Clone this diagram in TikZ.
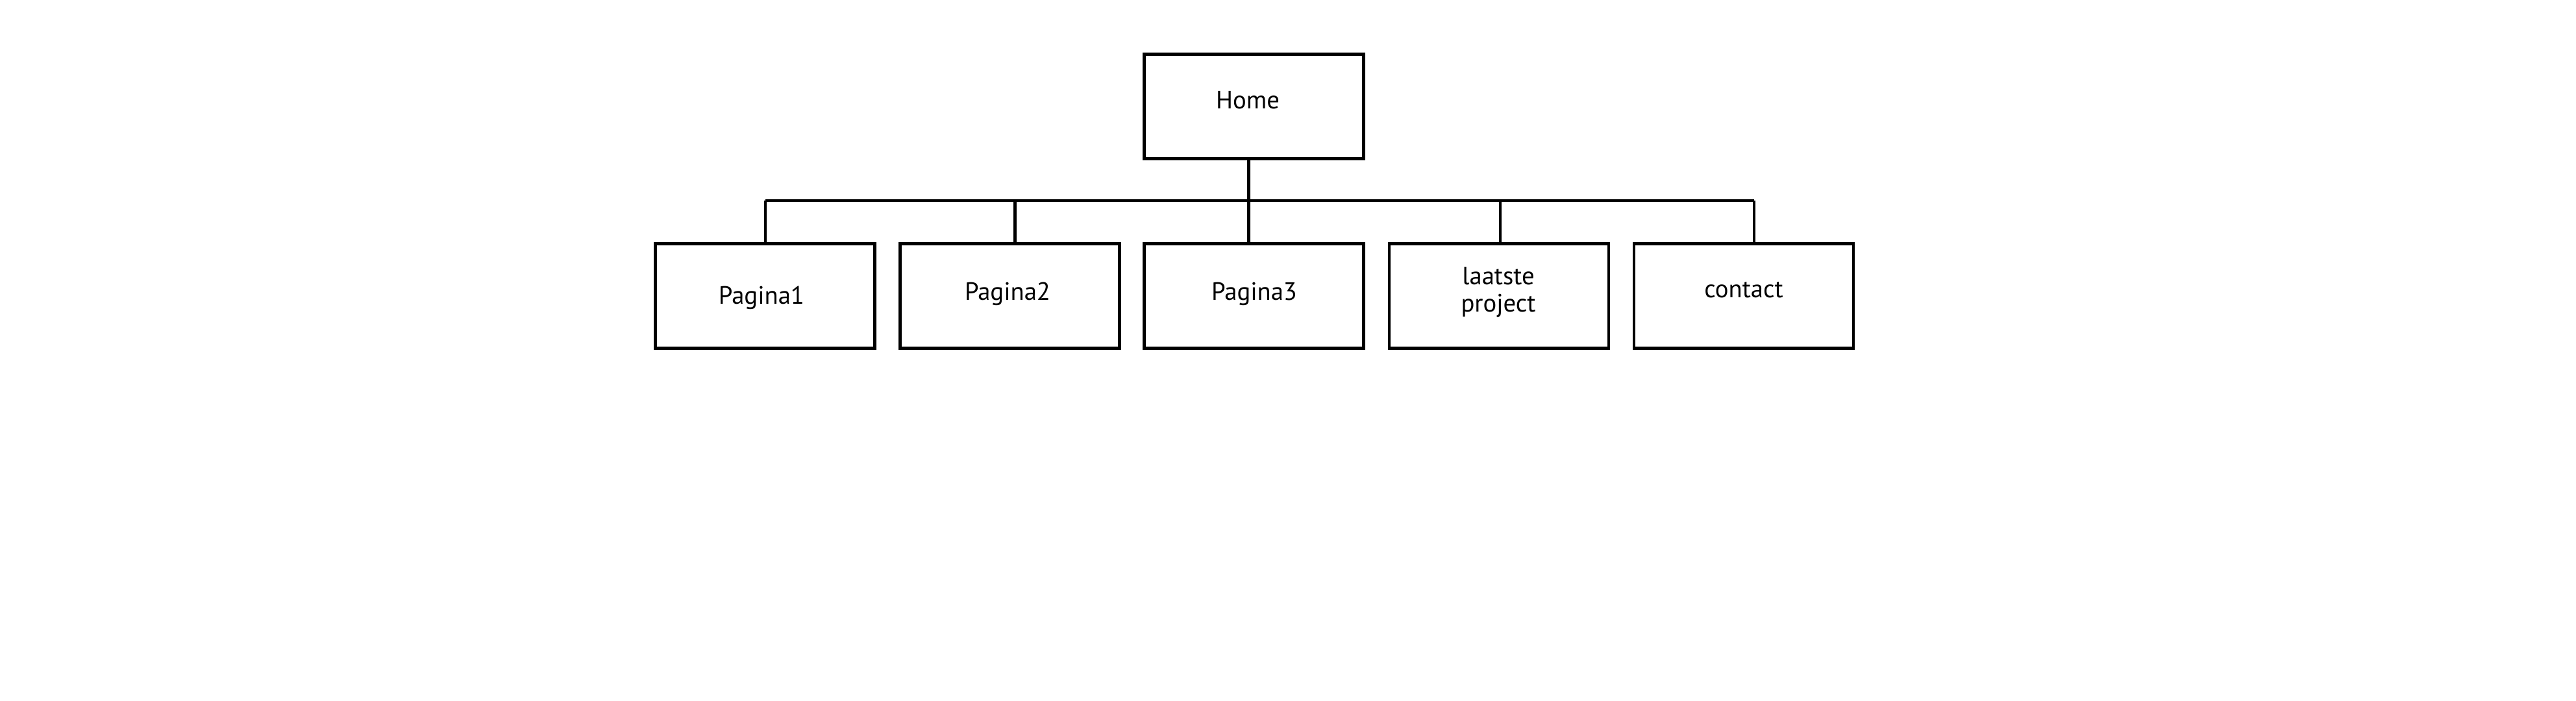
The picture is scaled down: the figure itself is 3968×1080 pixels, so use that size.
\documentclass[tikz,border=0pt]{standalone}
\usepackage{fontspec}
\setmainfont{PT Sans}
\usetikzlibrary{calc}
\begin{document}
\begin{tikzpicture}[x=0.01cm,y=-0.01cm,
  pagebox/.style={draw=black,line width=1.3pt,minimum width=3.38cm,minimum height=1.61cm,inner sep=0pt},
  txt/.style={inner sep=0pt,align=center,font=\fontsize{11}{11.7}\selectfont},
  conn/.style={draw=black,line width=1.3pt}]
\useasboundingbox[fill=white] (0,0) rectangle (3968,1080);
\node[pagebox] (home) at (1931.5,164) {};
\node[pagebox] (p1) at (1178.5,456) {};
\node[pagebox] (p2) at (1555.5,456) {};
\node[pagebox] (p3) at (1931.5,456) {};
\node[pagebox] (p4) at (2309,456) {};
\node[pagebox] (p5) at (2686,456) {};
\node[txt,anchor=base] (thome) at (1922,168) {Home};
\node[txt,anchor=base] (tp1) at (1173,469) {Pagina1};
\node[txt,anchor=base] (tp2) at (1552,463) {Pagina2};
\node[txt,anchor=base] (tp3) at (1932,463) {Pagina3};
\node[txt] (tp4) at (2308,450) {laatste\\project};
\node[txt,anchor=base] (tp5) at (2686,459) {contact};
\coordinate (busL) at (1179,309);
\coordinate (busR) at (2702,309);
\draw[conn] (busL) -- (busR);
\draw[conn] ([xshift=-0.08cm]home.south) -- ([xshift=-0.08cm]home.south |- busL);
\draw[conn] (busL) -- (busL |- p1.north);
\draw[conn] ([xshift=0.08cm]p2.north) -- ([xshift=0.08cm]p2.north |- busL);
\draw[conn] ([xshift=-0.08cm]p3.north) -- ([xshift=-0.08cm]p3.north |- busL);
\draw[conn] ([xshift=0.02cm]p4.north) -- ([xshift=0.02cm]p4.north |- busL);
\draw[conn] (busR) -- (busR |- p5.north);
\end{tikzpicture}
\end{document}
